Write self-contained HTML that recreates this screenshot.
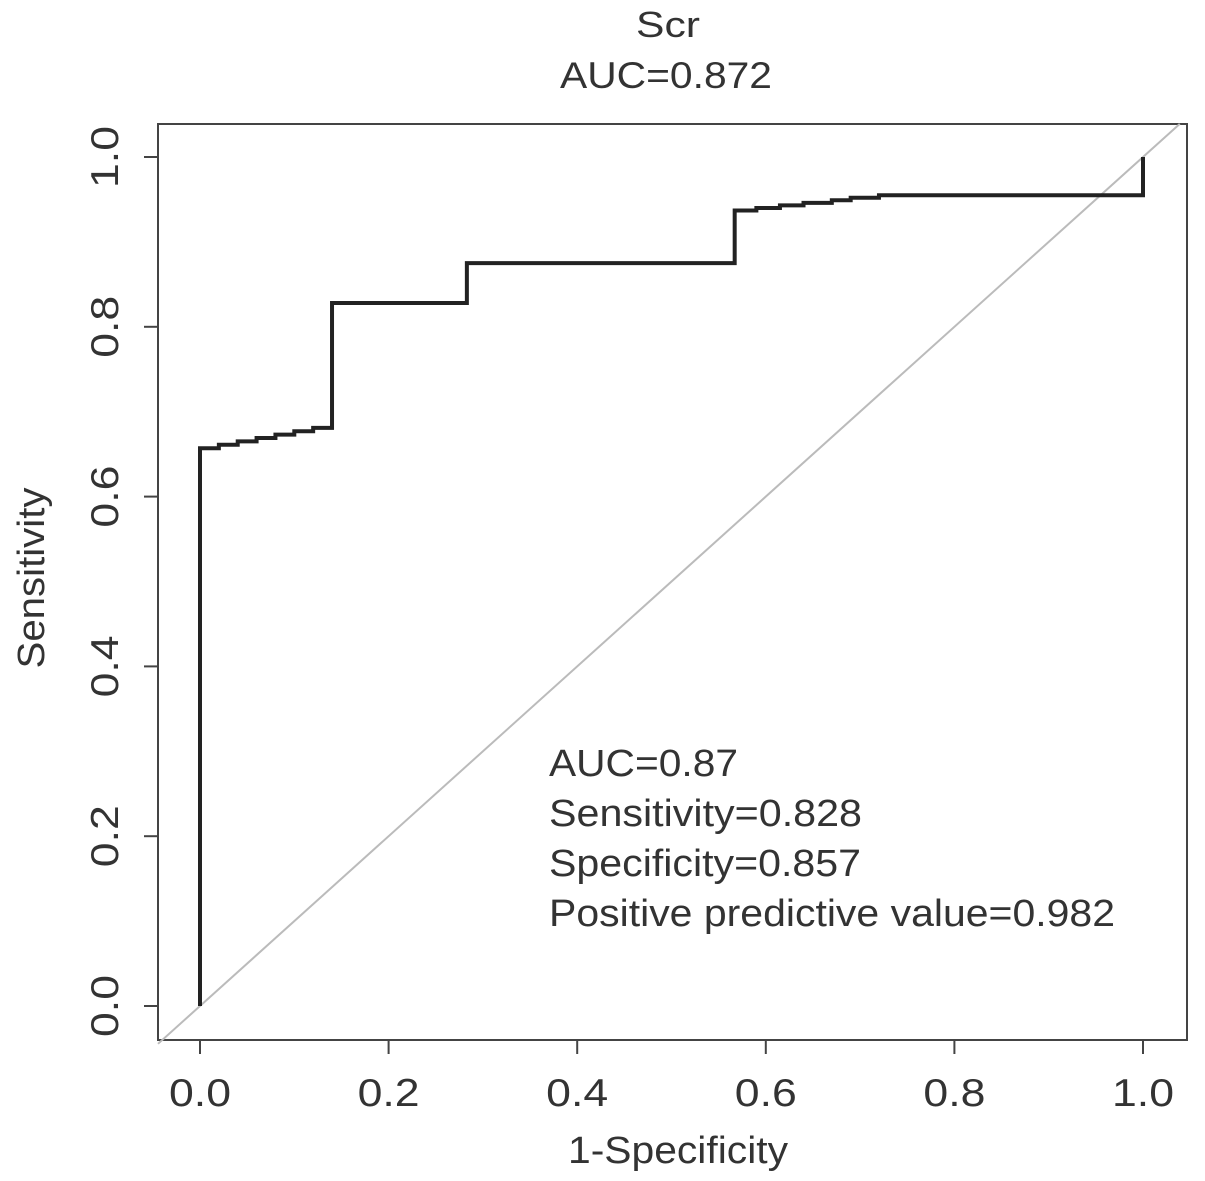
<!DOCTYPE html>
<html><head><meta charset="utf-8">
<style>
html,body{margin:0;padding:0;background:#fff;}
svg{display:block;font-family:"Liberation Sans",sans-serif;}
</style></head>
<body>
<svg id="chart" width="1205" height="1181" viewBox="0 0 1205 1181">
<text x="668" y="37" text-anchor="middle" font-size="36" textLength="64" lengthAdjust="spacingAndGlyphs" fill="#333">Scr</text>
<text x="666" y="88" text-anchor="middle" font-size="37" textLength="212" lengthAdjust="spacingAndGlyphs" fill="#333">AUC=0.872</text>
<rect x="158" y="124" width="1029" height="916" fill="none" stroke="#444" stroke-width="2"/>
<g id="xaxis"></g>
<g id="yaxis"></g>
<text x="678" y="1163" text-anchor="middle" font-size="38" textLength="220" lengthAdjust="spacingAndGlyphs" fill="#333">1-Specificity</text>
<text transform="translate(44,578) rotate(-90)" text-anchor="middle" font-size="38" textLength="181" lengthAdjust="spacingAndGlyphs" fill="#333">Sensitivity</text>
<g id="marks"></g>
<g font-size="38" fill="#333">
<text x="549" y="776" textLength="189" lengthAdjust="spacingAndGlyphs">AUC=0.87</text>
<text x="549" y="826" textLength="313" lengthAdjust="spacingAndGlyphs">Sensitivity=0.828</text>
<text x="549" y="876" textLength="312" lengthAdjust="spacingAndGlyphs">Specificity=0.857</text>
<text x="549" y="926" textLength="566" lengthAdjust="spacingAndGlyphs">Positive predictive value=0.982</text>
</g>
</svg>
<script>
const xTicks = [0, 0.2, 0.4, 0.6, 0.8, 1.0];
const yTicks = [0, 0.2, 0.4, 0.6, 0.8, 1.0];
const xTickLabels = ["0.0","0.2","0.4","0.6","0.8","1.0"];
const yTickLabels = ["0.0","0.2","0.4","0.6","0.8","1.0"];
const fpr = [0, 0.02, 0.04, 0.06, 0.08, 0.10, 0.12, 0.14, 0.283, 0.567, 0.59, 0.615, 0.64, 0.67, 0.69, 0.72, 1.0];
const tpr = [0.657, 0.661, 0.665, 0.669, 0.673, 0.677, 0.681, 0.828, 0.875, 0.937, 0.940, 0.943, 0.946, 0.949, 0.952, 0.955, 1.0];

const NS = "http://www.w3.org/2000/svg";
const X = v => 200 + v * 943;
const Y = v => 1006 - v * 849;
const xg = document.getElementById('xaxis'), yg = document.getElementById('yaxis'), mg = document.getElementById('marks');

xTicks.forEach((t, i) => {
  const l = document.createElementNS(NS, 'line');
  
  
  l.setAttribute('x1', X(t)); l.setAttribute('x2', X(t));
  l.setAttribute('y1', 1040); l.setAttribute('y2', 1054);
  l.setAttribute('stroke', '#444'); l.setAttribute('stroke-width', 2);
  xg.appendChild(l);
  const tx = document.createElementNS(NS, 'text');
  
  
  tx.setAttribute('x', X(t)); tx.setAttribute('y', 1106);
  tx.setAttribute('text-anchor', 'middle'); tx.setAttribute('font-size', 39); tx.setAttribute('fill', '#333');
  tx.setAttribute('textLength', 62); tx.setAttribute('lengthAdjust', 'spacingAndGlyphs');
  tx.textContent = xTickLabels[i];
  xg.appendChild(tx);
});
const xl = document.createElementNS(NS, 'line');


xl.setAttribute('x1', X(0)); xl.setAttribute('x2', X(1)); xl.setAttribute('y1', 1040); xl.setAttribute('y2', 1040);
xl.setAttribute('stroke', '#444'); xl.setAttribute('stroke-width', 2);
xg.appendChild(xl);

yTicks.forEach((t, i) => {
  const l = document.createElementNS(NS, 'line');
  
  
  l.setAttribute('x1', 144); l.setAttribute('x2', 158);
  l.setAttribute('y1', Y(t)); l.setAttribute('y2', Y(t));
  l.setAttribute('stroke', '#444'); l.setAttribute('stroke-width', 2);
  yg.appendChild(l);
  const tx = document.createElementNS(NS, 'text');
  
  
  tx.setAttribute('transform', 'translate(118,' + Y(t) + ') rotate(-90)');
  tx.setAttribute('text-anchor', 'middle'); tx.setAttribute('font-size', 39); tx.setAttribute('fill', '#333');
  tx.setAttribute('textLength', 62); tx.setAttribute('lengthAdjust', 'spacingAndGlyphs');
  tx.textContent = yTickLabels[i];
  yg.appendChild(tx);
});

const x0 = (158 - 200) / 943;
const d = document.createElementNS(NS, 'line');


d.setAttribute('x1', X(x0)); d.setAttribute('y1', Y(x0));
d.setAttribute('x2', X(1.039)); d.setAttribute('y2', Y(1.039));
d.setAttribute('stroke', '#bbb'); d.setAttribute('stroke-width', 2);
mg.appendChild(d);

let p = 'M' + X(0) + ' ' + Y(0);
for (let i = 0; i < fpr.length; i++) {
  p += ' H' + X(fpr[i]) + ' V' + Y(tpr[i]);
}
const c = document.createElementNS(NS, 'path');


c.setAttribute('d', p);
c.setAttribute('fill', 'none'); c.setAttribute('stroke', '#222'); c.setAttribute('stroke-width', 4);
mg.appendChild(c);
</script>
</body></html>
